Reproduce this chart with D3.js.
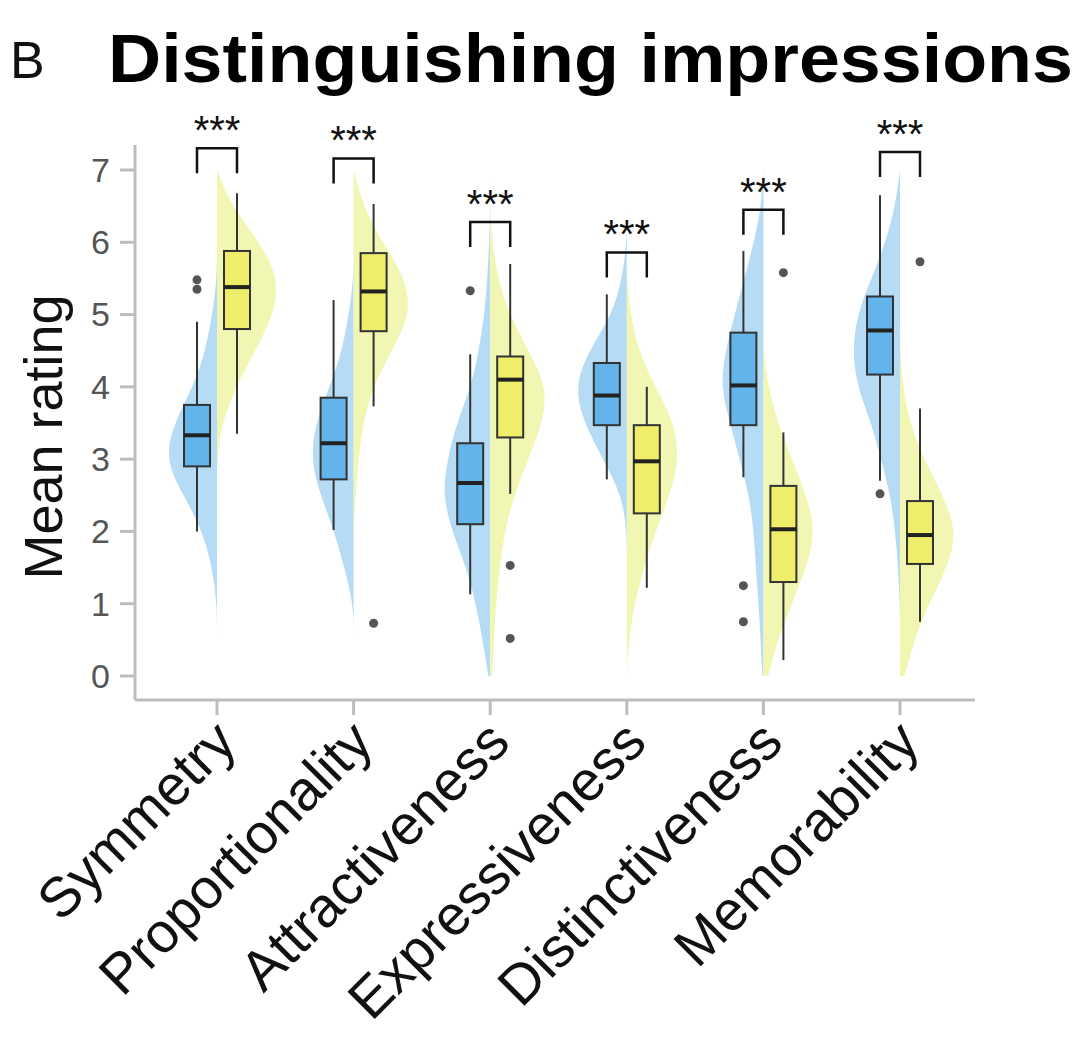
<!DOCTYPE html>
<html><head><meta charset="utf-8">
<script src="https://cdn.jsdelivr.net/npm/d3@7"></script>
<style>body{margin:0;background:#fff}</style>
</head><body>
<script>
var categories = ["Symmetry","Proportionality","Attractiveness","Expressiveness","Distinctiveness","Memorability"];
// box stats: [whiskerLow, q1, median, q3, whiskerHigh]
var blueBox = [[2.0,2.9,3.33,3.75,4.9],[2.02,2.72,3.22,3.85,5.2],[1.13,2.1,2.67,3.22,4.45],[2.72,3.47,3.88,4.33,5.28],[2.75,3.47,4.02,4.75,5.88],[2.7,4.17,4.78,5.25,6.65]];
var yellowBox = [[3.35,4.8,5.38,5.88,6.68],[3.73,4.77,5.32,5.85,6.53],[2.52,3.3,4.1,4.42,5.7],[1.22,2.25,2.97,3.47,4.0],[0.22,1.3,2.03,2.63,3.37],[0.75,1.55,1.95,2.42,3.7]];
var blueOut = [[5.35,5.48],[],[5.33],[],[1.25,0.75],[2.52]];
var yellowOut = [[],[0.73],[1.53,0.52],[],[5.58],[5.73]];
var densGrid = [0,0.5,1,1.5,2,2.5,3,3.5,4,4.5,5,5.5,6,6.5,7];
var blueDens = [
 [0,0,0,0.05,0.15,0.35,0.55,0.45,0.25,0.12,0.05,0,0,0,0],
 [0,0,0,0.1,0.2,0.35,0.45,0.4,0.25,0.12,0.05,0,0,0,0],
 [0.02,0.08,0.15,0.25,0.4,0.5,0.45,0.35,0.2,0.12,0.06,0.03,0.01,0,0],
 [0,0,0,0,0,0.05,0.25,0.45,0.55,0.4,0.15,0.05,0,0,0],
 [0.01,0.03,0.05,0.08,0.1,0.15,0.25,0.35,0.45,0.4,0.3,0.2,0.1,0.02,0],
 [0,0,0,0.02,0.05,0.1,0.2,0.3,0.45,0.5,0.45,0.3,0.15,0.05,0]];
var yellowDens = [
 [0,0,0,0,0,0,0,0.05,0.2,0.4,0.6,0.65,0.45,0.15,0],
 [0,0,0,0,0,0.02,0.05,0.1,0.2,0.4,0.6,0.55,0.3,0.1,0],
 [0.02,0.04,0.06,0.1,0.15,0.25,0.4,0.55,0.6,0.4,0.2,0.08,0.02,0,0],
 [0,0.02,0.08,0.18,0.3,0.45,0.55,0.5,0.3,0.12,0.04,0,0,0,0],
 [0.05,0.15,0.3,0.45,0.55,0.45,0.3,0.15,0.05,0,0,0,0,0,0],
 [0.05,0.15,0.3,0.5,0.6,0.45,0.25,0.1,0.03,0,0,0,0,0,0]];
var bracketY = [7.3,7.16,6.28,5.86,6.45,7.25];
var yTicks = [0,1,2,3,4,5,6,7];

var W = 1085, H = 1039;
var svg = d3.select("body").append("svg").attr("width", W).attr("height", H)
  .style("font-family", "Liberation Sans, Arial, sans-serif");

var x = d3.scalePoint().domain(categories).range([217, 900]);
var y = d3.scaleLinear().domain([0, 7]).range([676, 170]);
var dw = d3.scaleLinear().domain([0, 0.65]).range([0, 62]);

var off = 20, bw = 26;

// violins
function violin(dens, cx, side, color) {
  var pts = densGrid.map(function(v, j) { return [v, dens[j]]; });
  var area = d3.area().curve(d3.curveBasis)
    .y(function(d) { return y(d[0]); })
    .x0(cx)
    .x1(function(d) { return cx + side * dw(d[1]); });
  svg.append("path").datum(pts).attr("d", area).attr("fill", color).attr("opacity", 0.85);
}
categories.forEach(function(c, i) {
  violin(blueDens[i], x(c), -1, "#a9d6f3");
  violin(yellowDens[i], x(c), 1, "#eef5a6");
});

// axes
svg.append("line").attr("x1", 135).attr("x2", 135).attr("y1", 145).attr("y2", 700).attr("stroke", "#bdbdbd").attr("stroke-width", 3);
svg.append("line").attr("x1", 135).attr("x2", 975).attr("y1", 700).attr("y2", 700).attr("stroke", "#bdbdbd").attr("stroke-width", 3);
yTicks.forEach(function(t) {
  svg.append("line").attr("x1", 120).attr("x2", 135).attr("y1", y(t)).attr("y2", y(t)).attr("stroke", "#bdbdbd").attr("stroke-width", 3);
  svg.append("text").attr("x", 110).attr("y", y(t)).attr("dy", "0.35em").attr("text-anchor", "end")
    .attr("font-size", 34).attr("fill", "#555").text(t);
});
categories.forEach(function(c) {
  svg.append("line").attr("x1", x(c)).attr("x2", x(c)).attr("y1", 700).attr("y2", 715).attr("stroke", "#bdbdbd").attr("stroke-width", 3);
  svg.append("text").attr("transform", "translate(" + (x(c) + 22) + ",745) rotate(-45)")
    .attr("text-anchor", "end").attr("font-size", 56).attr("fill", "#111").text(c);
});

// boxes
function box(s, outs, cx, color) {
  var g = svg.append("g");
  g.append("line").attr("x1", cx).attr("x2", cx).attr("y1", y(s[0])).attr("y2", y(s[4])).attr("stroke", "#333").attr("stroke-width", 2);
  g.append("rect").attr("x", cx - bw / 2).attr("width", bw).attr("y", y(s[3])).attr("height", y(s[1]) - y(s[3]))
    .attr("fill", color).attr("stroke", "#333").attr("stroke-width", 2);
  g.append("line").attr("x1", cx - bw / 2).attr("x2", cx + bw / 2).attr("y1", y(s[2])).attr("y2", y(s[2])).attr("stroke", "#222").attr("stroke-width", 4);
  outs.forEach(function(o) {
    g.append("circle").attr("cx", cx).attr("cy", y(o)).attr("r", 4.5).attr("fill", "#555");
  });
}
categories.forEach(function(c, i) {
  box(blueBox[i], blueOut[i], x(c) - off, "#62b4ea");
  box(yellowBox[i], yellowOut[i], x(c) + off, "#eeee6a");
  // significance bracket
  var by = y(bracketY[i]);
  svg.append("path").attr("d", "M" + (x(c) - off) + "," + (by + 25) + "V" + by + "H" + (x(c) + off) + "V" + (by + 25))
    .attr("fill", "none").attr("stroke", "#111").attr("stroke-width", 2.5);
  svg.append("text").attr("x", x(c)).attr("y", by - 4).attr("text-anchor", "middle").attr("font-size", 40).attr("fill", "#111").text("***");
});

// titles
svg.append("text").attr("x", 10).attr("y", 78).attr("font-size", 52).attr("fill", "#111").text("B");
svg.append("text").attr("x", 108).attr("y", 82).attr("font-size", 68).attr("font-weight", "bold").attr("fill", "#000")
  .attr("textLength", 965).attr("lengthAdjust", "spacingAndGlyphs").text("Distinguishing impressions");
svg.append("text").attr("transform", "translate(62,437) rotate(-90)").attr("text-anchor", "middle")
  .attr("font-size", 54).attr("fill", "#111").text("Mean rating");
</script>
</body></html>
